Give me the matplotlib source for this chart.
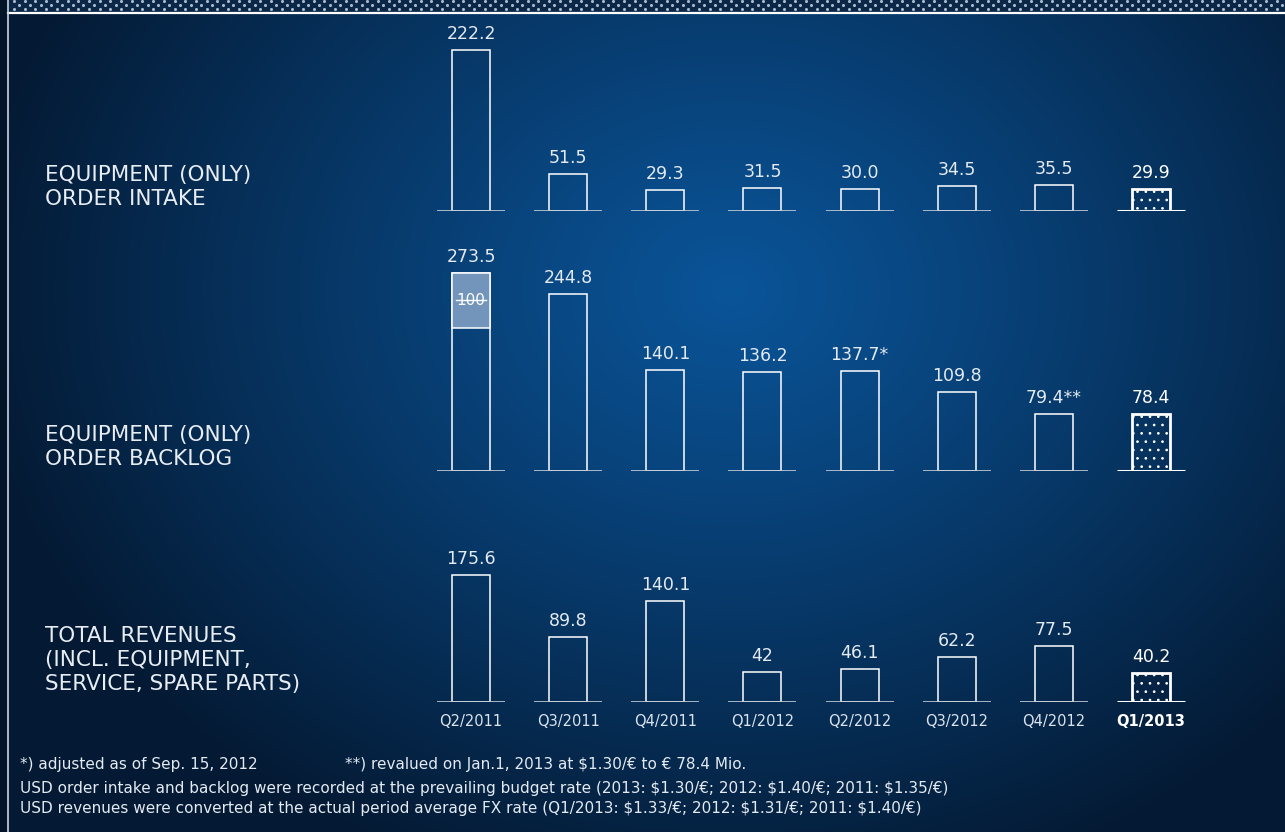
import numpy as np
import matplotlib.pyplot as plt

quarters = ["Q2/2011", "Q3/2011", "Q4/2011", "Q1/2012",
            "Q2/2012", "Q3/2012", "Q4/2012", "Q1/2013"]

order_intake = [222.2, 51.5, 29.3, 31.5, 30.0, 34.5, 35.5, 29.9]
intake_labels = ["222.2", "51.5", "29.3", "31.5", "30.0", "34.5", "35.5", "29.9"]

order_backlog = [273.5, 244.8, 140.1, 136.2, 137.7, 109.8, 79.4, 78.4]
backlog_labels = ["273.5", "244.8", "140.1", "136.2", "137.7*", "109.8", "79.4**", "78.4"]
backlog_crossed = 100          # old value shown struck out in the first bar
backlog_crossed_span = 76      # height of the grey box (chart units)

revenues = [175.6, 89.8, 140.1, 42, 46.1, 62.2, 77.5, 40.2]
revenue_labels = ["175.6", "89.8", "140.1", "42", "46.1", "62.2", "77.5", "40.2"]

row_titles = ["EQUIPMENT (ONLY)\nORDER INTAKE",
              "EQUIPMENT (ONLY)\nORDER BACKLOG",
              "TOTAL REVENUES\n(INCL. EQUIPMENT,\nSERVICE, SPARE PARTS)"]

notes = ["*) adjusted as of Sep. 15, 2012",
         "**) revalued on Jan.1, 2013 at $1.30/€ to € 78.4 Mio.",
         "USD order intake and backlog were recorded at the prevailing budget rate (2013: $1.30/€; 2012: $1.40/€; 2011: $1.35/€)",
         "USD revenues were converted at the actual period average FX rate (Q1/2013: $1.33/€; 2012: $1.31/€; 2011: $1.40/€)"]

plt.rcParams['font.family'] = ['DejaVu Sans']
plt.rcParams['hatch.color'] = "white"
plt.rcParams['hatch.linewidth'] = 0.7

W, H = 1285, 832
fig = plt.figure(figsize=(W / 100, H / 100), dpi=100)

# ---- background: radial blue gradient + dotted top band ----
bg = fig.add_axes([0, 0, 1, 1])
bg.set_xlim(0, W)
bg.set_ylim(H, 0)
bg.axis("off")

yy, xx = np.mgrid[0:H, 0:W]
r = np.sqrt(((xx - 730) / 760.0) ** 2 + ((yy - 290) / 620.0) ** 2)
t = np.clip(r, 0, 1) ** 1.1
c_in = np.array([10, 84, 152]) / 255
c_out = np.array([4, 26, 52]) / 255
img = c_in[None, None, :] * (1 - t[..., None]) + c_out[None, None, :] * t[..., None]
img[:, :8] = np.array([3, 20, 40]) / 255
bg.imshow(img, extent=(0, W, H, 0), aspect="auto", zorder=0)

bg.add_patch(plt.Rectangle((8, 0), W - 8, 12, color="#0b2748", zorder=1))
for k, yrow in enumerate([1.2, 5.2, 9.4]):
    off = 5.3 if k % 2 else 0
    xs = np.arange(14 + off, W, 10.7)
    bg.scatter(xs, np.full_like(xs, yrow), s=5, color="#a9bacb", lw=0, zorder=2)
bg.plot([8, W], [12.5, 12.5], color="white", lw=1.6, zorder=3)
bg.plot([8, 8], [0, H], color="#c9d3de", lw=1.2, zorder=3)

# ---- bar panels ----
PX_PER_UNIT = 0.724
x = np.arange(len(quarters))
left_px, right_px = 471 - 97 * 0.55, 1151 + 97 * 0.55


def panel(base_px, height_px):
    ax = fig.add_axes([left_px / W, (H - base_px) / H,
                       (right_px - left_px) / W, height_px / H])
    ax.set_xlim(-0.55, 7.55)
    ax.set_ylim(0, height_px / PX_PER_UNIT)
    ax.axis("off")
    ax.patch.set_alpha(0)
    return ax


def draw_bars(ax, values, labels):
    n = len(values)
    ax.bar(x[:n - 1], values[:n - 1], width=0.39, facecolor="none",
           edgecolor="white", linewidth=1.1, zorder=3)
    ax.bar(x[-1], values[-1], width=0.39, facecolor="none", edgecolor="white",
           linewidth=2.0, hatch="..", zorder=3)
    ax.hlines(np.zeros(n - 1), x[:-1] - 0.35, x[:-1] + 0.35, color="#c3cdd8",
              lw=1.2, zorder=4)
    ax.hlines(0, x[-1] - 0.35, x[-1] + 0.35, color="white", lw=2.2, zorder=4)
    for i, (v, lab) in enumerate(zip(values, labels)):
        last = i == n - 1
        ax.annotate(lab, (x[i], v), xytext=(0, 5), textcoords="offset points",
                    ha="center", va="bottom", fontsize=12.5,
                    color="white" if last else "#e4eaf1",
                    annotation_clip=False)


ax1 = panel(211, 185)
draw_bars(ax1, order_intake, intake_labels)

ax2 = panel(471, 235)
draw_bars(ax2, order_backlog, backlog_labels)
ax2.bar(x[0], backlog_crossed_span, bottom=order_backlog[0] - backlog_crossed_span,
        width=0.39, facecolor="#7395bb", edgecolor="white", linewidth=1.1, zorder=5)
yc = order_backlog[0] - backlog_crossed_span / 2
ax2.text(x[0], yc, str(backlog_crossed), ha="center", va="center",
         fontsize=11, color="white", zorder=6)
ax2.plot([x[0] - 0.15, x[0] + 0.15], [yc + 1, yc + 1], color="white", lw=1, zorder=6)

ax3 = panel(702, 185)
draw_bars(ax3, revenues, revenue_labels)
for i, q in enumerate(quarters):
    last = i == len(quarters) - 1
    ax3.annotate(q, (x[i], 0), xytext=(0, -9), textcoords="offset points",
                 ha="center", va="top", fontsize=10.5,
                 color="white" if last else "#dbe3ec",
                 fontweight="bold" if last else "normal", annotation_clip=False)

# ---- row titles ----
for title, yc_px in zip(row_titles, [187, 447.5, 660]):
    fig.text(45 / W, 1 - yc_px / H, title, ha="left", va="center", fontsize=15.5,
             color="#e8edf3", linespacing=1.25)

# ---- footnotes ----
note_pos = [(20, 765), (345, 765), (20, 789), (20, 808)]
for note, (nx, ny) in zip(notes, note_pos):
    fig.text(nx / W, 1 - ny / H, note, ha="left", va="center", fontsize=11,
             color="#e4eaf1", parse_math=False)

fig.savefig("out.png", dpi=100)
